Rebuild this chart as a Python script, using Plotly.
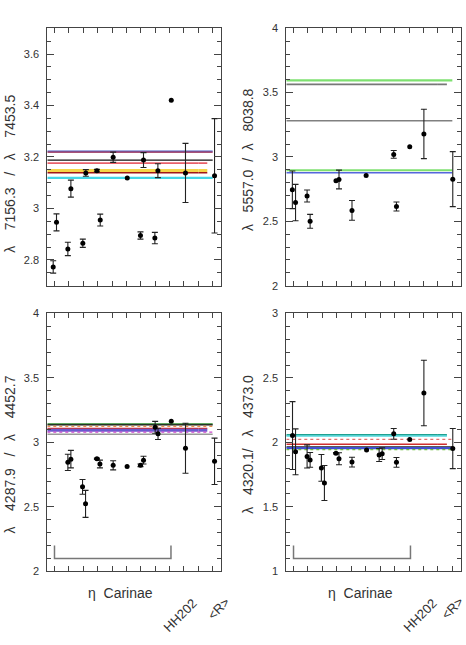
import plotly.graph_objects as go

# ---------------- data ----------------
# x positions of measurements (eta Carinae spectra 1..9, HH202 at 10, <R> at 12)
p1_x = [0.91, 1.14, 1.93, 2.14, 2.97, 3.18, 3.95, 4.18, 5.08, 6.06, 6.98, 7.19, 7.98, 8.19, 9.12, 10.11, 12.13]
p1_y = [2.773, 2.946, 2.843, 3.077, 2.865, 3.138, 3.147, 2.955, 3.199, 3.118, 2.895, 3.188, 2.885, 3.147, 3.420, 3.138, 3.127]
p1_e = [0.024, 0.033, 0.026, 0.033, 0.016, 0.013, 0.005, 0.023, 0.020, 0, 0.014, 0.029, 0.022, 0.027, 0, 0.115, 0.222]

p2_x = [0.92, 1.14, 1.94, 2.15, 3.94, 4.15, 5.05, 6.03, 7.94, 8.13, 9.05, 10.03, 12.03]
p2_y = [2.745, 2.646, 2.697, 2.500, 2.815, 2.825, 2.585, 2.856, 3.020, 2.615, 3.079, 3.179, 2.828]
p2_e = [0.146, 0.141, 0.047, 0.054, 0, 0.073, 0.077, 0, 0.030, 0.035, 0, 0.192, 0.214]

p3_x = [1.93, 2.14, 2.95, 3.16, 3.95, 4.16, 5.08, 6.05, 6.98, 7.19, 8.00, 8.20, 9.12, 10.11, 12.13]
p3_y = [2.845, 2.870, 2.655, 2.523, 2.873, 2.832, 2.822, 2.812, 2.822, 2.862, 3.117, 3.066, 3.163, 2.954, 2.853]
p3_e = [0.063, 0.068, 0.057, 0.105, 0.005, 0.030, 0.035, 0, 0.010, 0.030, 0.046, 0.044, 0, 0.194, 0.180]

p4_x = [0.93, 1.14, 1.94, 2.15, 2.93, 3.14, 3.94, 4.15, 5.05, 6.06, 6.93, 7.14, 7.94, 8.13, 9.05, 10.03, 12.03]
p4_y = [2.053, 1.927, 1.891, 1.864, 1.802, 1.685, 1.916, 1.873, 1.847, 1.940, 1.902, 1.912, 2.066, 1.845, 2.023, 2.383, 1.952]
p4_e = [0.263, 0.178, 0.090, 0.057, 0.104, 0.136, 0.005, 0.047, 0.038, 0, 0.050, 0.045, 0.042, 0.038, 0, 0.254, 0.156]

# theoretical ratios (horizontal lines)
p1_lines = [3.223, 3.219, 3.188, 3.176, 3.148, 3.139, 3.119]
p2_lines = [3.595, 3.564, 3.282, 2.897, 2.877]
p3_lines = [3.142, 3.136, 3.124, 3.108, 3.094, 3.080, 3.063]
p4_lines = [2.057, 2.050, 2.023, 1.985, 1.965, 1.955, 1.943]

# styles for the lines: (color, width, dash, dashed-end)
p1_style = [("#4b5cc4", 1.2, "solid", False), ("#8b1a4a", 1.2, "solid", False),
            ("#111111", 1.3, "solid", False), ("#e8606a", 1.6, "solid", True),
            ("#f5d547", 3.0, "solid", True), ("#a01818", 1.5, "solid", True),
            ("#44d6e6", 2.2, "solid", False)]
p2_style = [("#7ee070", 2.2, "solid", False), ("#777777", 1.6, "solid", True),
            ("#808080", 1.6, "solid", False), ("#7ee070", 2.2, "solid", False),
            ("#5566dd", 1.5, "solid", False)]
p3_style = [("#2e8b2e", 1.6, "solid", False), ("#111111", 1.3, "solid", False),
            ("#e89050", 1.3, "dot", False), ("#d03030", 1.6, "solid", True),
            ("#6a5acd", 3.0, "solid", True), ("#cc44cc", 1.3, "dot", False),
            ("#9a9a9a", 1.6, "solid", False)]
p4_style = [("#20a090", 2.2, "solid", True), ("#66e0e6", 1.5, "solid", True),
            ("#e07070", 1.3, "dot", False), ("#d03030", 1.6, "solid", True),
            ("#222222", 1.2, "solid", False), ("#4050d0", 2.2, "solid", False),
            ("#70c040", 1.3, "dot", False)]

S = "\u00a0"
ylabels = ["\u03bb" + S * 4 + "7156.3" + S * 3 + "/" + S * 3 + "\u03bb" + S * 4 + "7453.5",
           "\u03bb" + S * 3 + "5557.0" + S * 2 + "/" + S * 2 + "\u03bb" + S * 3 + "8038.8",
           "\u03bb" + S * 4 + "4287.9" + S * 3 + "/" + S * 3 + "\u03bb" + S * 4 + "4452.7",
           "\u03bb" + S * 3 + "4320.1/" + S * 3 + "\u03bb" + S * 3 + "4373.0"]
yranges = [(2.7, 3.7), (2, 4), (2, 4), (1, 3)]
ydticks = [(0.2, 0.05), (0.5, 0.1), (0.5, 0.1), (0.5, 0.1)]
brackets = [None, None, (1.0, 9.1, 2.1, 2.2), (1.0, 9.1, 1.1, 1.2)]

XR = (0.5, 12.6)
LINE_END = 12.0
DASH_START = 11.0

W, H = 466, 645
def px2x(p): return p / W
def px2y(p): return 1 - p / H

xdom = [(47.3, 221.3), (286.3, 461.0), (47.3, 221.3), (286.3, 461.0)]
ydom = [(22.7, 285.0), (22.7, 285.0), (313.3, 576.0), (313.3, 576.0)]

fig = go.Figure()
panels = [(p1_x, p1_y, p1_e, p1_lines, p1_style),
          (p2_x, p2_y, p2_e, p2_lines, p2_style),
          (p3_x, p3_y, p3_e, p3_lines, p3_style),
          (p4_x, p4_y, p4_e, p4_lines, p4_style)]

for i, (xs, ys, es, lines, styles) in enumerate(panels):
    xa = "x" if i == 0 else f"x{i+1}"
    ya = "y" if i == 0 else f"y{i+1}"
    # horizontal lines
    for v, (c, w, d, dend) in zip(lines, styles):
        xend = DASH_START if dend else LINE_END
        fig.add_trace(go.Scatter(x=[XR[0], xend], y=[v, v], mode="lines",
                                 line=dict(color=c, width=w, dash=d),
                                 xaxis=xa, yaxis=ya, showlegend=False, hoverinfo="skip"))
        if dend:
            fig.add_trace(go.Scatter(x=[DASH_START, LINE_END], y=[v, v], mode="lines",
                                     line=dict(color=c, width=w, dash="dash"),
                                     xaxis=xa, yaxis=ya, showlegend=False, hoverinfo="skip"))
    # bracket
    if brackets[i] is not None:
        bx0, bx1, by0, by1 = brackets[i]
        fig.add_trace(go.Scatter(x=[bx0, bx0, bx1, bx1], y=[by1, by0, by0, by1], mode="lines",
                                 line=dict(color="#777777", width=1.5),
                                 xaxis=xa, yaxis=ya, showlegend=False, hoverinfo="skip"))
    # points with error bars
    xe = [x for x, e in zip(xs, es) if e > 0]
    ye = [y for y, e in zip(ys, es) if e > 0]
    ee = [e for e in es if e > 0]
    fig.add_trace(go.Scatter(x=xe, y=ye, mode="markers",
                             marker=dict(color="black", size=5),
                             error_y=dict(type="data", array=ee, visible=True,
                                          color="#222222", thickness=1.1, width=3),
                             xaxis=xa, yaxis=ya, showlegend=False))
    xn = [x for x, e in zip(xs, es) if e == 0]
    yn = [y for y, e in zip(ys, es) if e == 0]
    fig.add_trace(go.Scatter(x=xn, y=yn, mode="markers",
                             marker=dict(color="black", size=5),
                             xaxis=xa, yaxis=ya, showlegend=False))

layout = dict(width=W, height=H, margin=dict(l=0, r=0, t=0, b=0),
              paper_bgcolor="white", plot_bgcolor="white",
              font=dict(family="Liberation Sans, Arial, sans-serif", color="#333333"))
for i in range(4):
    xk = "xaxis" if i == 0 else f"xaxis{i+1}"
    yk = "yaxis" if i == 0 else f"yaxis{i+1}"
    ya = "y" if i == 0 else f"y{i+1}"
    xa = "x" if i == 0 else f"x{i+1}"
    layout[xk] = dict(domain=[px2x(xdom[i][0]), px2x(xdom[i][1])], range=list(XR),
                      anchor=ya, tickvals=list(range(1, 13)), ticks="inside", ticklen=5,
                      tickcolor="#444444", showticklabels=False, showline=True,
                      linecolor="#444444", linewidth=1, mirror="ticks",
                      showgrid=False, zeroline=False)
    mj, mn = ydticks[i]
    layout[yk] = dict(domain=[px2y(ydom[i][1]), px2y(ydom[i][0])], range=list(yranges[i]),
                      anchor=xa, tick0=0, dtick=mj, ticks="inside", ticklen=7,
                      tickformat="~g",
                      tickcolor="#444444", showline=True, linecolor="#444444", linewidth=1,
                      mirror="ticks", showgrid=False, zeroline=False,
                      tickfont=dict(size=11, color="#333333"), ticklabelstandoff=5,
                      minor=dict(dtick=mn, tick0=0, ticks="inside", ticklen=4,
                                 tickcolor="#444444", showgrid=False))
fig.update_layout(**layout)

ann = []
title_pos = [(10, 171), (248, 157), (10, 457), (248, 447)]
for t, (tx, ty) in zip(ylabels, title_pos):
    ann.append(dict(text=t, x=px2x(tx), y=px2y(ty), xref="paper", yref="paper",
                    showarrow=False, textangle=-90, font=dict(size=14, color="#333333"),
                    xanchor="center", yanchor="middle"))
for cx in (120, 360):
    ann.append(dict(text="\u03b7" + S * 2 + "Carinae", x=px2x(cx), y=px2y(598), xref="paper",
                    yref="paper", showarrow=False, font=dict(size=14, color="#333333"),
                    xanchor="center", yanchor="middle"))
for cx in (180, 420):
    ann.append(dict(text="HH202", x=px2x(cx), y=px2y(621), xref="paper", yref="paper",
                    showarrow=False, textangle=-45, font=dict(size=13, color="#333333"),
                    xanchor="center", yanchor="middle"))
for cx in (218.5, 452.0):
    ann.append(dict(text="&lt;R&gt;", x=px2x(cx), y=px2y(613.5), xref="paper", yref="paper",
                    showarrow=False, textangle=-45, font=dict(size=13, color="#333333"),
                    xanchor="center", yanchor="middle"))
fig.update_layout(annotations=ann)

fig.write_html("out.html")
